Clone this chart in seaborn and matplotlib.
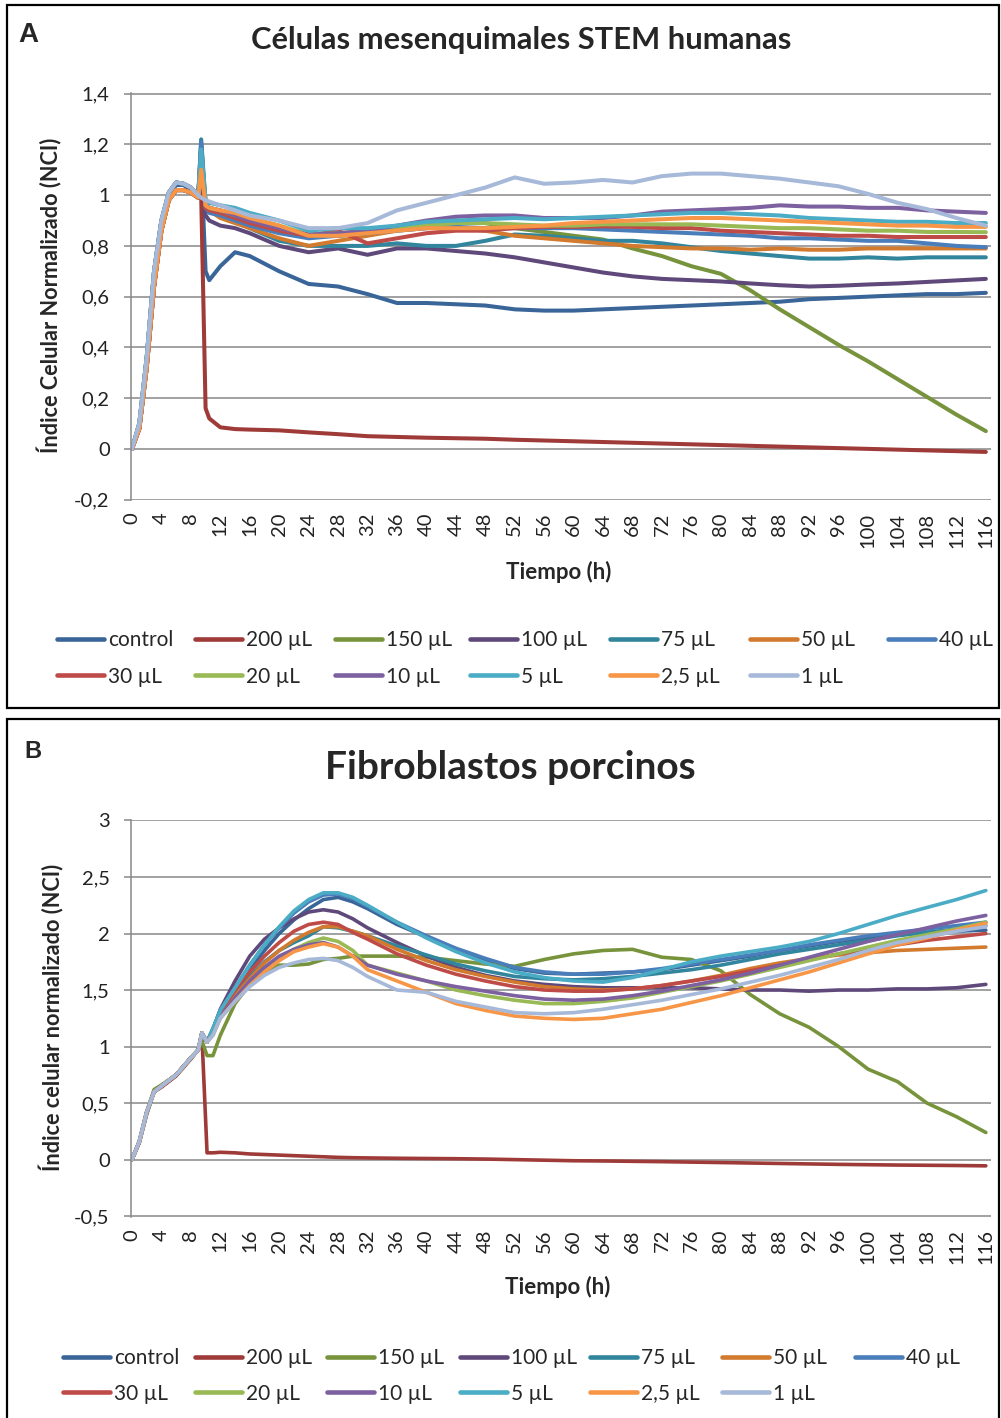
import numpy as np
import pandas as pd
import matplotlib
matplotlib.use("Agg")
import matplotlib.pyplot as plt
import seaborn as sns
from matplotlib.lines import Line2D
from matplotlib.patches import Rectangle

# ---------------- DATA ----------------
series_names = ["control", "200 µL", "150 µL", "100 µL", "75 µL", "50 µL", "40 µL",
                "30 µL", "20 µL", "10 µL", "5 µL", "2,5 µL", "1 µL"]
series_colors = ["#3A6598", "#9E3B38", "#77933C", "#5F497A", "#31859C", "#D27A2E", "#4A7EBB",
                 "#BE4B48", "#98B954", "#7D60A0", "#4BACC6", "#F79646", "#A7B9D9"]

x_ticks = list(range(0, 117, 4))

# Panel A (human mesenchymal STEM cells)
time_a = [0, 1, 2, 3, 4, 5, 6, 7, 8, 9, 9.4, 10, 10.5, 12, 14, 16, 20,
          24, 28, 32, 36, 40, 44, 48, 52, 56, 60, 64, 68, 72, 76, 80, 84, 88, 92, 96, 100, 104, 108, 112, 116]
a_control = [0, 0.09, 0.35, 0.68, 0.88, 1.0, 1.04, 1.04, 1.02, 0.99, 1.12, 0.70, 0.665, 0.72, 0.775, 0.76, 0.70,
             0.65, 0.64, 0.61, 0.575, 0.575, 0.57, 0.565, 0.55, 0.545, 0.545, 0.55, 0.555, 0.56, 0.565, 0.57, 0.575,
             0.58, 0.59, 0.595, 0.60, 0.605, 0.61, 0.61, 0.615]
a_200 = [0, 0.08, 0.32, 0.64, 0.86, 0.98, 1.02, 1.02, 1.01, 0.99, 1.0, 0.16, 0.12, 0.085, 0.078, 0.076, 0.073,
         0.065, 0.058, 0.05, 0.047, 0.044, 0.042, 0.04, 0.036, 0.033, 0.03, 0.027, 0.024, 0.021, 0.018, 0.015, 0.012,
         0.009, 0.006, 0.003, 0.0, -0.003, -0.006, -0.009, -0.012]
a_150 = [0, 0.1, 0.36, 0.7, 0.9, 1.01, 1.05, 1.045, 1.03, 1.0, 1.15, 0.97, 0.95, 0.93, 0.91, 0.90, 0.87,
         0.84, 0.84, 0.85, 0.87, 0.88, 0.90, 0.89, 0.87, 0.855, 0.84, 0.825, 0.79, 0.76, 0.72, 0.69, 0.625,
         0.55, 0.48, 0.41, 0.345, 0.275, 0.205, 0.135, 0.07]
a_100 = [0, 0.08, 0.32, 0.64, 0.86, 0.98, 1.02, 1.02, 1.01, 0.99, 1.2, 0.92, 0.90, 0.88, 0.87, 0.85, 0.80,
         0.775, 0.79, 0.765, 0.79, 0.79, 0.78, 0.77, 0.755, 0.735, 0.715, 0.695, 0.68, 0.67, 0.665, 0.66, 0.652,
         0.645, 0.64, 0.643, 0.648, 0.652, 0.658, 0.664, 0.67]
a_75 = [0, 0.08, 0.32, 0.64, 0.86, 0.98, 1.02, 1.02, 1.01, 0.99, 1.22, 0.97, 0.95, 0.92, 0.90, 0.87, 0.82,
        0.80, 0.80, 0.80, 0.81, 0.80, 0.80, 0.82, 0.845, 0.84, 0.83, 0.82, 0.82, 0.81, 0.795, 0.78, 0.77,
        0.76, 0.75, 0.75, 0.755, 0.75, 0.755, 0.755, 0.755]
a_50 = [0, 0.08, 0.32, 0.64, 0.86, 0.98, 1.02, 1.02, 1.01, 0.99, 1.19, 0.96, 0.94, 0.91, 0.89, 0.87, 0.83,
        0.80, 0.82, 0.84, 0.86, 0.87, 0.87, 0.86, 0.84, 0.83, 0.82, 0.81, 0.80, 0.795, 0.79, 0.79, 0.785,
        0.79, 0.785, 0.785, 0.79, 0.79, 0.79, 0.79, 0.79]
a_40 = [0, 0.1, 0.36, 0.7, 0.9, 1.01, 1.05, 1.045, 1.03, 1.0, 1.21, 0.95, 0.93, 0.92, 0.90, 0.88, 0.85,
        0.83, 0.84, 0.85, 0.86, 0.87, 0.875, 0.87, 0.87, 0.87, 0.87, 0.865, 0.86, 0.855, 0.85, 0.845, 0.84,
        0.83, 0.83, 0.825, 0.82, 0.82, 0.81, 0.80, 0.795]
a_30 = [0, 0.08, 0.32, 0.64, 0.86, 0.98, 1.02, 1.02, 1.01, 0.99, 1.15, 0.95, 0.94, 0.93, 0.91, 0.89, 0.86,
        0.84, 0.86, 0.81, 0.83, 0.85, 0.86, 0.86, 0.87, 0.875, 0.875, 0.877, 0.875, 0.87, 0.87, 0.86, 0.855,
        0.85, 0.845, 0.84, 0.84, 0.835, 0.835, 0.835, 0.835]
a_20 = [0, 0.1, 0.36, 0.7, 0.9, 1.01, 1.05, 1.045, 1.03, 1.0, 1.15, 0.96, 0.95, 0.94, 0.92, 0.91, 0.88,
        0.845, 0.85, 0.86, 0.87, 0.88, 0.89, 0.89, 0.885, 0.88, 0.88, 0.885, 0.885, 0.885, 0.885, 0.88, 0.875,
        0.87, 0.87, 0.865, 0.86, 0.86, 0.855, 0.855, 0.854]
a_10 = [0, 0.1, 0.36, 0.7, 0.9, 1.01, 1.05, 1.045, 1.03, 1.0, 1.15, 0.96, 0.95, 0.94, 0.92, 0.90, 0.87,
        0.845, 0.85, 0.86, 0.88, 0.90, 0.915, 0.92, 0.92, 0.91, 0.91, 0.91, 0.92, 0.935, 0.94, 0.945, 0.95,
        0.96, 0.955, 0.955, 0.95, 0.95, 0.94, 0.935, 0.93]
a_5 = [0, 0.1, 0.36, 0.7, 0.9, 1.01, 1.05, 1.045, 1.03, 1.0, 1.18, 0.98, 0.97, 0.96, 0.95, 0.93, 0.90,
       0.86, 0.87, 0.87, 0.88, 0.895, 0.90, 0.905, 0.91, 0.905, 0.91, 0.915, 0.92, 0.925, 0.93, 0.93, 0.925,
       0.92, 0.91, 0.905, 0.90, 0.895, 0.895, 0.89, 0.89]
a_2_5 = [0, 0.08, 0.32, 0.64, 0.86, 0.98, 1.02, 1.02, 1.01, 0.99, 1.1, 0.96, 0.95, 0.94, 0.93, 0.91, 0.88,
         0.84, 0.84, 0.85, 0.86, 0.87, 0.87, 0.87, 0.875, 0.88, 0.89, 0.895, 0.90, 0.905, 0.91, 0.91, 0.905,
         0.90, 0.895, 0.89, 0.885, 0.88, 0.88, 0.875, 0.875]
a_1 = [0, 0.1, 0.36, 0.7, 0.9, 1.01, 1.05, 1.045, 1.03, 1.0, 0.99, 0.98, 0.975, 0.96, 0.94, 0.92, 0.90,
       0.87, 0.87, 0.89, 0.94, 0.97, 1.0, 1.03, 1.07, 1.045, 1.05, 1.06, 1.05, 1.075, 1.085, 1.085, 1.075,
       1.065, 1.05, 1.035, 1.005, 0.97, 0.945, 0.91, 0.88]

# Panel B (porcine fibroblasts)
time_b = [0, 1, 2, 3, 4, 6, 8, 9, 9.5, 10.2,
          11, 12, 14, 16, 18, 20, 22, 24, 26, 28, 30, 32,
          36, 40, 44, 48, 52, 56, 60, 64, 68, 72, 76, 80, 84, 88, 92, 96, 100, 104, 108, 112, 116]
b_control = [0, 0.16, 0.42, 0.6, 0.65, 0.75, 0.9, 0.97, 1.12, 1.04,
             1.15, 1.30, 1.50, 1.68, 1.85, 2.00, 2.12, 2.22, 2.30, 2.32, 2.28, 2.22,
             2.08, 1.97, 1.86, 1.77, 1.69, 1.65, 1.64, 1.65, 1.66, 1.68, 1.72, 1.76, 1.80, 1.85, 1.89, 1.93,
             1.96, 1.99, 2.01, 2.02, 2.03]
b_200 = [0, 0.15, 0.40, 0.6, 0.64, 0.74, 0.89, 0.97, 1.10, 0.06,
         0.06, 0.065, 0.06, 0.05, 0.045, 0.04, 0.035, 0.03, 0.025, 0.02, 0.017, 0.015,
         0.012, 0.01, 0.008, 0.005, 0.0, -0.005, -0.01, -0.012, -0.015, -0.018, -0.022, -0.026, -0.03, -0.034,
         -0.038, -0.042, -0.045, -0.048, -0.05, -0.052, -0.055]
b_150 = [0, 0.16, 0.42, 0.62, 0.66, 0.75, 0.9, 0.97, 1.05, 0.92,
         0.92, 1.10, 1.38, 1.55, 1.66, 1.72, 1.72, 1.73, 1.77, 1.78, 1.80, 1.80,
         1.80, 1.79, 1.76, 1.73, 1.71, 1.77, 1.82, 1.85, 1.86, 1.79, 1.77, 1.67, 1.46, 1.29, 1.17, 1.00,
         0.80, 0.69, 0.50, 0.38, 0.24]
b_100 = [0, 0.16, 0.42, 0.6, 0.65, 0.75, 0.9, 0.97, 1.12, 1.04,
         1.15, 1.33, 1.58, 1.80, 1.95, 2.05, 2.13, 2.19, 2.21, 2.19, 2.13, 2.05,
         1.92, 1.80, 1.70, 1.63, 1.58, 1.55, 1.53, 1.52, 1.52, 1.52, 1.52, 1.51, 1.50, 1.50, 1.49, 1.50,
         1.50, 1.51, 1.51, 1.52, 1.55]
b_75 = [0, 0.16, 0.42, 0.6, 0.65, 0.75, 0.9, 0.97, 1.12, 1.04,
        1.15, 1.30, 1.48, 1.62, 1.75, 1.85, 1.92, 1.98, 2.06, 2.05, 2.02, 1.98,
        1.89, 1.81, 1.73, 1.67, 1.62, 1.60, 1.59, 1.60, 1.62, 1.65, 1.68, 1.72, 1.77, 1.82, 1.86, 1.90,
        1.94, 1.98, 2.01, 2.04, 2.07]
b_50 = [0, 0.16, 0.42, 0.6, 0.65, 0.75, 0.9, 0.97, 1.12, 1.04,
        1.14, 1.28, 1.45, 1.60, 1.74, 1.85, 1.94, 2.01, 2.06, 2.06, 2.02, 1.98,
        1.86, 1.76, 1.68, 1.62, 1.57, 1.53, 1.51, 1.50, 1.51, 1.54, 1.58, 1.63, 1.69, 1.74, 1.78, 1.81,
        1.83, 1.85, 1.86, 1.87, 1.88]
b_40 = [0, 0.16, 0.42, 0.6, 0.65, 0.75, 0.9, 0.97, 1.12, 1.04,
        1.16, 1.32, 1.52, 1.72, 1.90, 2.05, 2.18, 2.28, 2.34, 2.35, 2.31, 2.24,
        2.10, 1.98, 1.87, 1.78, 1.70, 1.66, 1.64, 1.64, 1.66, 1.69, 1.73, 1.77, 1.81, 1.85, 1.90, 1.94,
        1.98, 2.01, 2.04, 2.07, 2.10]
b_30 = [0, 0.16, 0.42, 0.6, 0.65, 0.75, 0.9, 0.97, 1.12, 1.04,
        1.15, 1.30, 1.50, 1.66, 1.80, 1.92, 2.02, 2.08, 2.10, 2.08, 2.01, 1.95,
        1.82, 1.72, 1.64, 1.58, 1.53, 1.50, 1.49, 1.49, 1.51, 1.54, 1.58, 1.62, 1.67, 1.72, 1.77, 1.82,
        1.86, 1.90, 1.94, 1.97, 2.00]
b_20 = [0, 0.16, 0.42, 0.6, 0.65, 0.75, 0.9, 0.97, 1.12, 1.04,
        1.12, 1.26, 1.42, 1.56, 1.68, 1.78, 1.86, 1.92, 1.96, 1.93, 1.85, 1.72,
        1.65, 1.58, 1.50, 1.45, 1.41, 1.38, 1.38, 1.40, 1.43, 1.48, 1.53, 1.58, 1.64, 1.70, 1.76, 1.82,
        1.88, 1.94, 1.99, 2.04, 2.10]
b_10 = [0, 0.16, 0.42, 0.6, 0.65, 0.75, 0.9, 0.97, 1.12, 1.04,
        1.12, 1.26, 1.43, 1.58, 1.70, 1.80, 1.86, 1.90, 1.92, 1.88, 1.80, 1.72,
        1.64, 1.58, 1.53, 1.49, 1.45, 1.42, 1.41, 1.42, 1.45, 1.49, 1.54, 1.59, 1.65, 1.72, 1.79, 1.86,
        1.93, 1.99, 2.05, 2.11, 2.16]
b_5 = [0, 0.16, 0.42, 0.6, 0.65, 0.75, 0.9, 0.97, 1.12, 1.04,
       1.16, 1.32, 1.52, 1.72, 1.90, 2.06, 2.20, 2.30, 2.36, 2.36, 2.32, 2.25,
       2.10, 1.96, 1.84, 1.74, 1.66, 1.61, 1.58, 1.57, 1.61, 1.68, 1.75, 1.80, 1.84, 1.88, 1.93, 2.00,
       2.08, 2.16, 2.23, 2.30, 2.38]
b_2_5 = [0, 0.16, 0.42, 0.6, 0.65, 0.75, 0.9, 0.97, 1.12, 1.04,
         1.10, 1.25, 1.40, 1.54, 1.66, 1.76, 1.84, 1.88, 1.91, 1.88, 1.80, 1.68,
         1.58, 1.48, 1.38, 1.32, 1.27, 1.25, 1.24, 1.25, 1.29, 1.33, 1.39, 1.45, 1.52, 1.59, 1.66, 1.74,
         1.82, 1.90, 1.96, 2.03, 2.09]
b_1 = [0, 0.16, 0.42, 0.6, 0.65, 0.75, 0.9, 0.97, 1.12, 1.04,
       1.10, 1.25, 1.40, 1.53, 1.63, 1.70, 1.74, 1.77, 1.78, 1.76, 1.70, 1.62,
       1.50, 1.48, 1.40, 1.35, 1.30, 1.29, 1.30, 1.33, 1.37, 1.41, 1.46, 1.51, 1.57, 1.63, 1.70, 1.77,
       1.85, 1.92, 1.97, 2.02, 2.06]

a_yticks = [-0.2, 0, 0.2, 0.4, 0.6, 0.8, 1.0, 1.2, 1.4]
a_yticklabels = ["-0,2", "0", "0,2", "0,4", "0,6", "0,8", "1", "1,2", "1,4"]
b_yticks = [-0.5, 0, 0.5, 1.0, 1.5, 2.0, 2.5, 3.0]
b_yticklabels = ["-0,5", "0", "0,5", "1", "1,5", "2", "2,5", "3"]

values_a = [a_control, a_200, a_150, a_100, a_75, a_50, a_40, a_30, a_20, a_10, a_5, a_2_5, a_1]
values_b = [b_control, b_200, b_150, b_100, b_75, b_50, b_40, b_30, b_20, b_10, b_5, b_2_5, b_1]

# ---------------- FIGURE ----------------
sns.set_theme(style="white")
plt.rcParams['font.family'] = ['Lato', 'DejaVu Sans']

W, H = 1001, 1418
fig = plt.figure(figsize=(W / 100, H / 100), dpi=100)
palette = dict(zip(series_names, series_colors))
GRID = "#888888"


def long_df(times, values):
    rows = []
    for name, vals in zip(series_names, values):
        rows.append(pd.DataFrame({"t": times, "v": vals, "serie": name}))
    return pd.concat(rows, ignore_index=True)


def panel(left, top, right, bottom, times, values, ylim, yticks, yticklabels, lw):
    ax = fig.add_axes([left / W, 1 - bottom / H, (right - left) / W, (bottom - top) / H])
    df = long_df(times, values)
    sns.lineplot(data=df, x="t", y="v", hue="serie", hue_order=series_names, palette=palette,
                 estimator=None, sort=False, linewidth=lw, legend=False, ax=ax)
    ax.set_xlim(-0.2, 116.7)
    ax.set_ylim(*ylim)
    ax.set_yticks(yticks)
    ax.set_yticklabels(yticklabels)
    ax.set_xticks(x_ticks)
    ax.set_xticklabels([str(v) for v in x_ticks], rotation=90)
    ax.set_axisbelow(True)
    ax.grid(axis="y", color=GRID, lw=1.1)
    ax.grid(axis="x", visible=False)
    for s in ["top", "right", "bottom"]:
        ax.spines[s].set_visible(False)
    ax.spines["left"].set_color(GRID)
    ax.spines["left"].set_linewidth(1.1)
    ax.tick_params(axis="y", left=True, length=5, width=1.1, color=GRID, pad=10, labelsize=14.5,
                   labelcolor="#222222")
    ax.tick_params(axis="x", bottom=False, length=0, pad=9, labelsize=14.5, labelcolor="#222222")
    ax.set_xlabel("")
    ax.set_ylabel("")
    return ax


axA = panel(130.5, 93.3, 991, 500, time_a, values_a, (-0.2015, 1.4015), a_yticks, a_yticklabels, 2.9)
axB = panel(130.5, 820, 991, 1216.6, time_b, values_b, (-0.504, 3.004), b_yticks, b_yticklabels, 2.6)

# frames around each panel
fig.add_artist(Rectangle((6.5 / W, 1 - 708 / H), (998.5 - 6.5) / W, (708 - 5) / H,
                         transform=fig.transFigure, fill=False, ec="black", lw=1.6))
fig.add_artist(Rectangle((6.5 / W, 1 - 1430 / H), (998.5 - 6.5) / W, (1430 - 719) / H,
                         transform=fig.transFigure, fill=False, ec="black", lw=1.6))

# panel letters and titles
fig.text(28 / W, 1 - 35 / H, "A", fontsize=20, fontweight="bold", ha="center", va="center",
         family=["Liberation Sans", "DejaVu Sans"])
fig.text(33 / W, 1 - 752 / H, "B", fontsize=17, fontweight="bold", ha="center", va="center",
         family=["Liberation Sans", "DejaVu Sans"])
fig.text(521 / W, 1 - 40 / H, "Células mesenquimales STEM humanas", fontsize=22.2, fontweight="bold",
         ha="center", va="center")
fig.text(510 / W, 1 - 767 / H, "Fibroblastos porcinos", fontsize=28, fontweight="bold",
         ha="center", va="center")

# axis labels
fig.text(50 / W, 1 - 295 / H, "Índice Celular Normalizado (NCI)", fontsize=15.6, fontweight="bold",
         rotation=90, ha="center", va="center")
fig.text(52 / W, 1 - 1017 / H, "Índice celular normalizado (NCI)", fontsize=15.6, fontweight="bold",
         rotation=90, ha="center", va="center")
fig.text(559 / W, 1 - 572 / H, "Tiempo (h)", fontsize=16, fontweight="bold", ha="center", va="center")
fig.text(558 / W, 1 - 1287 / H, "Tiempo (h)", fontsize=16, fontweight="bold", ha="center", va="center")


# legends (Excel-style equal column widths)
def legend_block(col_x, row_top, labelspacing):
    for i, x in enumerate(col_x):
        idx = [i, i + 7] if i + 7 < len(series_names) else [i]
        handles = [Line2D([], [], color=series_colors[j], lw=3.3, solid_capstyle="round") for j in idx]
        fig.legend(handles, [series_names[j] for j in idx], loc="upper left",
                   bbox_to_anchor=(x / W, 1 - row_top / H), frameon=False, borderpad=0,
                   borderaxespad=0, handlelength=2.26, handletextpad=0.2,
                   labelspacing=labelspacing, fontsize=15)


legend_block([57, 195, 335, 470, 610, 750, 888], 630.5, 0.78)
legend_block([63, 195, 327, 460, 590, 722, 855], 1348.5, 0.73)

fig.savefig("out.png", dpi=100)
